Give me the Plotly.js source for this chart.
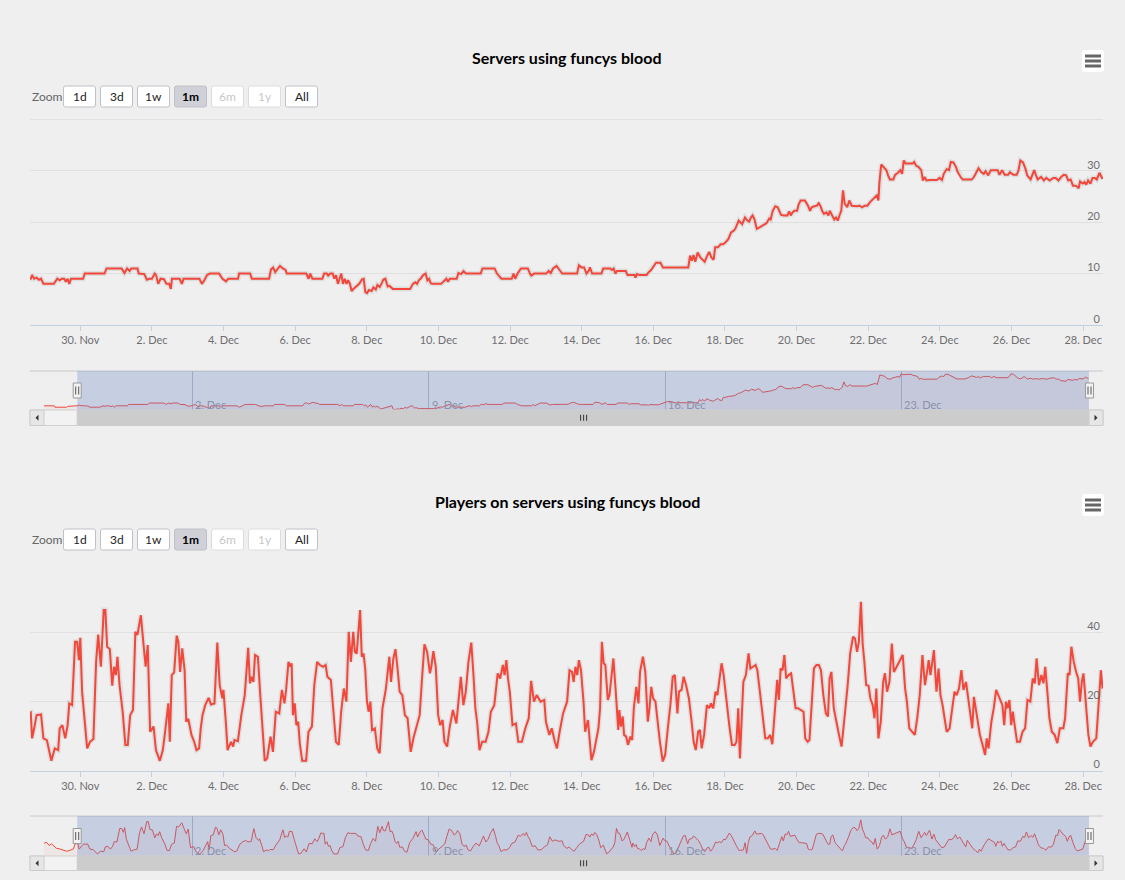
<!DOCTYPE html>
<html>
<head>
<meta charset="utf-8">
<script src="https://cdn.plot.ly/plotly-3.0.1.min.js"></script>
<style>
html,body{margin:0;padding:0;background:#efefef;}
#chart{width:1125px;height:880px;}
</style>
</head>
<body>
<div id="chart"></div>
<script>
// ---------------- DATA (hours since 2014-11-28 00:00) ----------------
const serverHours = [-9.3,-2,-1.5,6.8,7.5,10,13,14.8,15.7,17.1,18.7,20.3,21.7,23.3,30.3,32.6,34.2,35.6,37.2,38.3,39.5,40.6,41.8,49.9,51.0,64.2,65.6,75.7,77.6,79.4,81.0,82.2,86.3,87.2,90.9,92.6,94.2,96.0,97.9,98.8,100.2,101.8,104.1,105.7,107.6,108.7,109.4,114.5,116.1,117.2,127.8,129.5,131.1,132.9,134.8,141.0,143.3,145.6,147.2,153.7,154.4,161.8,163.0,174.5,175.8,177.2,178.6,180.2,181.8,183.7,185.5,186.4,199.4,201.0,202.1,203.5,210.2,211.4,213.2,214.1,215.5,217.1,218.3,219.4,220.6,221.7,222.9,224.0,225.2,226.4,227.5,228.7,229.8,231.0,233.3,234.9,236.8,237.9,239.0,240.2,241.4,243.2,244.4,246.0,247.1,248.7,250.1,251.0,252.4,254.0,255.2,256.3,257.5,269.0,270.9,272.5,273.7,274.8,276.0,277.8,279.4,280.6,281.7,282.9,284.0,289.8,292.1,293.3,294.4,295.6,300.2,301.4,303.2,304.8,306.4,316.3,317.5,325.6,327.2,330.2,337.1,338.3,339.4,341.0,343.3,347.9,349.3,350.2,352.1,360.2,361.8,363.2,364.8,367.1,369.4,371.0,
372.8,380.9,382.1,383.9,385.6,387.2,388.6,389.5,391.0,397.2,398.4,403.0,404.2,405.4,406.5,407.7,413.5,414.7,419.3,420.0,421.0,422.8,427.5,428.6,430.5,432.1,433.8,436.8,438.4,455.4,456.6,457.8,458.9,460.1,461.7,463.6,464.7,466.4,467.8,469.4,471.0,472.4,473.4,475.2,477.1,478.7,480.4,482.2,484.1,485.7,486.9,488.0,489.2,491.5,493.4,495.0,496.2,497.4,498.5,499.7,501.3,503.2,505.5,507.8,509.7,510.6,512.0,513.7,515.3,516.7,517.6,519.5,521.8,523.0,524.1,525.3,526.5,528.3,529.3,530.7,533.5,534.6,535.8,537.0,538.1,540.0,541.6,542.8,543.9,545.1,546.3,547.9,549.3,550.2,551.6,553.2,554.4,555.6,556.7,557.9,559.1,560.2,561.9,563.3,564.9,566.5,568.4,570.2,571.9,573.5,575.4,577.2,578.9,580.5,581.7,582.8,583.5,584.7,586.6,588.2,589.3,590.5,592.8,594.0,595.9,597.5,598.7,599.8,601.0,605.7,606.8,608.0,609.8,611.5,612.6,613.8,615.0,617.3,622.0,623.8,625.4,626.6,628.5,630.1,631.3,633.1,634.8,636.0,638.3,639.4,645.2,646.4,647.6,649.9,651.8,653.4,654.6,656.4,658.1,662.7,663.9,665.7,667.4,669.7,670.9,673.2,675.5,676.7,677.9,679.7,681.3,682.5,684.8,686.0,687.2,688.3,689.5,691.8,693.7,695.3,697.6,700.0,701.6,703.5,705.3,707.0,708.6,710.0,711.6,713.2,715.1,717.0,717.9,719.8,720.9,722.1,723.3,724.9,726.3,727.9,729.1,730.9,731.9,733.0];
const serverCounts = [9,9,8,8,8.6,9,9,9,9.7,9,9.2,8.8,9,8,8,9,8.7,9,9,8.4,9,8,9,9,10,10,11,11,10.1,11,10.5,11,11,10,9.9,8.8,9,9,10,9.7,8,9,8.9,8,8,7,9,9,8,9,9,8,8.7,9.7,10,10,9,8.5,9,9,10,10,9,9,10.8,11.2,10.3,11,11.5,11,10.7,10,10,9,10,9,9,10,10,9.6,10,10,9,9.7,8,9,10,8,9,8,8.7,8,6.6,7,7.6,8,8.9,9,6.4,6.2,6.8,6.6,7.3,6.9,7.8,7.4,8.2,8.8,9,7.5,7.6,7.3,7,7,8,8.3,8,8.7,9,9.7,10,8.7,9,8.1,8,8,8.8,9,8.4,9,9,10.1,9.9,10.5,10,10,11,11,10,9,9,10,9,10,11,11,10,9.6,10,10,10.5,10.1,11,11.5,10.6,10,
10,10,11.6,11.2,11.2,10,10.5,11.2,10,10,11,11,10.7,11,10,10.5,10.5,9.7,9.7,9.2,9.9,9.7,9.7,10.2,10.7,11.5,12.1,12.1,11.2,11.2,13.5,12.5,13.6,12.3,14.1,13.1,12.8,12.3,13.3,14.2,13.1,12.7,15.1,15.1,15.7,15.7,16.1,16.7,18.0,18.3,18.7,19.6,20.3,19.6,20.9,20.3,20.1,20.9,21.3,20.6,18.7,19.0,19.4,19.8,20.7,20.5,22.2,23.1,22.9,21.9,21.4,21.3,21.3,22.1,21.3,21.9,22.2,22.2,23.4,24.2,24.2,23.7,23.1,22.2,22.9,23.1,23.2,23.7,23.2,22.2,21.6,21.9,21.3,22.2,21.3,20.5,20.9,20.3,21.3,22.2,26.2,23.6,22.9,24.2,23.2,23.1,23.1,23.2,22.9,23.2,23.2,23.9,24.4,24.7,25.2,24.2,27.8,31.2,30.7,30.1,29.1,28.3,28.3,29.2,29.6,30.1,29.4,32.0,31.4,31.4,31.7,31.0,30.7,30.1,28.1,28.8,28.1,28.2,28.2,28.6,28.2,29.4,30.3,30.1,31.7,31.6,30.7,29.7,28.6,28.3,28.3,28.6,29.2,30.5,29.7,29.4,29.9,29.1,30.1,30.1,29.2,30.1,29.2,29.2,29.7,29.2,29.2,30.1,32.0,31.6,30.4,29.1,28.3,29.1,30.1,29.2,28.3,28.8,28.1,28.6,28.1,28.6,28.6,28.1,28.8,29.2,29.1,28.1,28.3,27.1,27.1,26.6,27.9,27.5,27.8,27.3,28.1,27.5,28.6,28.6,28.3,29.6,29.1,28.4];

const playerHours = [-9.3,-7.4,-5.6,-3.9,-2.2,-0.3,2.0,4.4,6.8,9.1,11.5,12.9,
14.8,15.7,17.1,18.7,21.7,23.3,25.6,28.6,30.9,33.2,34.2,36.0,37.9,39.5,40.6,42.5,44.5,45.9,47.1,48.0,49.2,51.0,52.6,54.5,56.8,58.6,60.0,61.8,63.7,64.8,66.0,67.8,69.4,70.6,71.8,72.9,74.3,76.4,78.2,79.8,81.4,83.3,84.9,86.3,88.6,90.2,91.8,93.2,94.8,97.1,98.7,101.3,103.3,104.7,107.0,108.0,109.3,110.9,112.6,113.7,114.9,116.3,117.9,119.0,120.4,122.5,124.1,125.9,127.6,128.7,129.9,131.7,134.0,135.6,137.9,139.8,141.4,143.2,143.9,145.5,146.7,149.0,150.4,151.3,153.6,155.9,158.2,160.5,161.7,162.8,164.0,165.1,167.0,168.6,170.2,171.6,173.2,175.5,177.1,179.0,181.3,183.1,184.8,185.9,187.5,188.7,189.6,190.5,191.7,192.8,194.0,195.1,196.7,199.3,200.9,203.2,204.8,206.7,208.5,210.8,212.4,213.6,215.9,217.7,219.3,221.2,222.8,224.6,226.3,227.9,229.3,230.9,232.0,233.2,234.3,235.5,236.6,237.8,238.9,240.1,241.2,242.4,243.5,245.4,247.0,248.6,250.5,252.8,255.1,256.2,257.8,259.2,260.8,262.0,263.8,265.5,267.3,269.4,271.2,273.5,275.4,277.0,278.6,280.4,282.3,283.2,284.6,286.2,287.8,289.2,290.8,292.0,293.8,295.4,297.7,300.0,301.7,303.0,304.7,306.3,308.1,310.0,311.6,312.7,313.9,315.5,317.3,319.6,321.5,323.1,325.4,327.7,329.3,331.2,332.3,333.5,334.6,335.8,337.6,339.9,341.5,343.9,346.2,348.5,350.1,352.0,353.8,356.5,358.9,360.0,362.3,363.9,366.0,367.4,369.2,371.5,
374.2,375.8,377.5,378.6,379.8,381.0,382.1,383.5,385.2,386.3,388.2,389.1,390.5,392.2,393.8,395.2,396.3,397.5,398.7,399.8,401.5,402.6,403.8,405.2,406.8,408.5,409.2,410.3,411.5,412.4,413.8,415.0,416.6,417.8,418.9,420.6,422.0,423.1,425.0,426.6,428.3,429.4,430.6,431.8,433.4,434.8,436.4,438.3,439.9,441.8,443.4,445.0,446.4,448.1,449.2,450.9,452.3,453.9,455.8,457.4,459.0,460.4,462.0,463.2,464.4,466.0,467.9,469.5,470.6,472.1,473.7,474.9,476.0,477.7,479.1,480.2,481.4,483.0,484.7,486.5,487.7,488.9,490.0,491.2,492.3,494.0,495.8,497.0,498.6,500.5,501.7,503.3,505.2,507.0,508.7,510.3,511.7,513.3,515.0,516.1,517.3,518.6,519.8,521.0,522.6,524.3,525.7,527.3,528.9,530.8,532.6,533.8,535.4,536.6,537.8,539.6,541.3,542.9,544.3,545.9,547.6,549.0,550.1,551.3,552.9,554.1,555.5,556.4,558.1,559.5,560.6,562.2,563.9,565.8,567.1,568.5,569.7,571.1,572.3,573.4,574.6,576.2,577.4,579.0,580.2,581.4,582.8,584.4,586.0,587.2,588.6,590.2,591.8,593.2,594.9,596.5,597.9,599.1,600.7,601.9,603.5,605.4,607.2,608.8,610.5,612.3,614.0,615.4,616.5,617.7,618.9,620.0,621.7,623.1,624.4,625.8,627.5,628.6,630.5,632.1,633.8,635.2,636.8,638.4,639.8,641.5,643.1,644.5,645.7,646.8,648.5,649.6,650.8,652.6,654.3,655.4,656.6,658.5,660.1,661.7,663.1,664.8,665.9,667.1,668.3,669.4,670.6,671.8,672.9,674.1,675.7,677.6,679.4,681.1,682.7,684.6,686.2,687.6,688.8,690.4,692.0,693.4,694.6,696.2,697.4,699.0,700.9,702.7,704.4,706.7,707.9,709.7,710.9,712.1,713.7,715.3,716.7,717.9,719.1,720.2,721.9,723.5,724.9,726.5,728.8,730.5,731.9,733.0];
const playerCounts = [17.3,18.4,14.2,16.5,13.3,10.3,9.5,7.6,6.4,7.6,9.5,16.5,
16.8,9.3,12.2,16,16.2,9.3,8.8,2.8,6.4,5.9,12.2,13.1,9.3,13.1,19.4,18.9,37.2,37.2,31.9,38.4,22.8,15.1,6.4,8.3,9.1,31.4,39.3,30,46.4,46.4,35.8,35.1,24.5,30,27.6,32.9,24.7,17,7.4,7.4,16,17.5,40.1,39.2,44.9,37.2,30,36.3,11.2,12.7,5.9,2.8,5.9,10.7,19.4,8.3,27.6,28.4,39,37.2,28.5,35.3,29,14.1,14.9,10.3,8.6,5.9,6.4,12.2,16,18.9,21,19.1,19.4,37,24.7,20.9,23.3,14.1,5.9,8.3,6.9,8.8,8.5,16,21.8,35.5,25.2,27.1,25.6,33.4,32.9,21.8,10.3,2.8,3.5,9.8,5.4,17,16.5,23.3,19.4,23.3,31.4,30,31,16,19.4,13.1,14.1,7.8,2.8,2.8,11.2,12.7,24.7,31.4,30.5,30,30.5,27.1,26.2,15.1,8.3,7.4,17,23.7,19.9,40.1,31.4,40.1,34.3,33.8,39.2,46.4,32.9,33.8,29.5,19.9,17,19.9,11.7,12.2,6.4,5,18,23.7,32.9,25.6,32.4,35.1,28.5,22.8,21.8,16,15.1,5.4,9.3,13.1,16,26.6,36.5,34.3,28.1,30,34.5,30,16,13.1,14.6,8.3,6.9,12.2,17.5,13.6,21.8,27.1,18.9,22.8,31.4,37,26.6,18,14.1,5.9,8.3,8.3,11.2,17,18.9,28.1,26.6,30.5,27.6,31.9,26.6,22.8,13.1,13.6,8.3,8.3,12.2,15.1,25.9,19.9,21.8,19.9,20.4,14.1,10.3,12.2,8.3,6.4,11.2,16.5,
19.9,29,28.5,25.6,30,27.6,31.9,29,19.9,11.2,14.6,10.3,3,5.4,9.3,12.2,18,37.2,31,30.5,20.4,21.8,26.6,32.4,22.8,11.7,17.5,12.7,15.6,10.3,9.8,7.4,9.8,8.8,18,24.2,19.4,28.5,32.9,28.5,14.1,18,24.2,20.9,19.9,14.1,8.3,2.6,4.5,12.7,18.9,27.1,27.6,16.5,22.8,23.3,27.1,24.7,20.9,15.1,8.3,5.9,11.2,11.7,6.4,10.3,18.9,18,19.4,18,22.8,21.8,25.2,31,27.6,23.3,18,12.7,7.4,7.4,8.3,18,3.5,18,25.6,27.6,33.9,29.5,30,30.5,29,22.8,14.6,9.3,9.3,10.3,7.6,16,26.2,20.4,29.5,29,33.4,26.6,27.6,28.1,22.8,18,18,17.5,17,9.3,8.3,8.8,16,29.5,30.5,30.5,29,21.8,16.5,15.6,26.6,28.5,18,15.1,12.2,10.3,6.9,14.1,17.5,24.7,33.9,38.7,38.2,34.3,37.2,48.8,36.3,31.4,24.7,24.5,20.9,18.9,15.1,23.7,9.3,14.1,25.6,28.1,22.8,25.6,36.7,28.5,30,31,32.4,33.4,23.7,19.9,12.2,11.2,10.3,15.1,21.8,33.4,24.7,28.5,31.9,27.6,31.4,34.8,22.8,29.5,21.8,18.9,14.1,11.2,12.2,17.5,22.8,21.8,23.7,29,23.3,25.6,19.9,16,12.2,21.3,16,13.1,10.3,7.4,4.5,9.3,6.4,14.1,18,23.3,21.8,20.4,18.9,13.1,19.9,18,20.4,13.1,17,13.1,8.3,8.3,11.2,12.2,20.4,19.9,26.6,25.2,32.4,24.7,27.6,25.2,30,21.8,15.1,11.2,10.3,7.9,12.2,12.2,15.1,28.1,27.6,35.8,31.4,28.5,26.6,19.9,25.6,28.1,18,10.3,6.9,8.3,9.3,18.9,29,23.7];

const chartTitles = ["Servers using funcys blood", "Players on servers using funcys blood"];
const zoomButtons = ["1d", "3d", "1w", "1m", "6m", "1y", "All"];
const serverTicks = [0, 10, 20, 30, 40];
const playerTicks = [0, 20, 40, 60];
const navTickDates = ["2014-12-02", "2014-12-09", "2014-12-16", "2014-12-23"];
const navTickLabels = ["2. Dec", "9. Dec", "16. Dec", "23. Dec"];

// ---------------- helpers ----------------
const W = 1125, H = 880;
const fx = x => x / W, fy = y => 1 - y / H;
const BASE = Date.UTC(2014, 10, 28);
const T = h => BASE + h * 3600000;
const serverX = serverHours.map(T);
const playerX = playerHours.map(T);
const WIN0 = T(14.3), WIN1 = T(733.3);
const RED = '#f2473a';
const F = "Lato, 'Open Sans', sans-serif";
const BG = '#efefef';

const G = [
  {title: 57, btn: 96.5, top: 118, bot: 325, navTop: 371, navBot: 410, scrBot: 425.5, menu: 61,
   ticks: serverTicks, navRange: [6, 34], yRange: [0, 40.25]},
  {title: 501, btn: 539.5, top: 562, bot: 770.5, navTop: 816, navBot: 856, scrBot: 870.5, menu: 505,
   ticks: playerTicks, navRange: [0, 54], yRange: [0, 60.29]}
];

const layout = {
  width: W, height: H, margin: {l: 0, r: 0, t: 0, b: 0},
  paper_bgcolor: BG, plot_bgcolor: 'rgba(0,0,0,0)',
  showlegend: false, font: {family: F, color: '#333'},
  shapes: [], annotations: []
};

function roundRect(x0, y0, x1, y1, r) {
  const X0 = fx(x0), X1 = fx(x1), Y0 = fy(y0), Y1 = fy(y1);
  const rx = r / W, ry = r / H;
  return `M${X0 + rx},${Y0} L${X1 - rx},${Y0} Q${X1},${Y0} ${X1},${Y0 - ry} L${X1},${Y1 + ry} Q${X1},${Y1} ${X1 - rx},${Y1} L${X0 + rx},${Y1} Q${X0},${Y1} ${X0},${Y1 + ry} L${X0},${Y0 - ry} Q${X0},${Y0} ${X0 + rx},${Y0} Z`;
}

G.forEach((g, i) => {
  const mx = i === 0 ? 'xaxis' : 'xaxis3', my = i === 0 ? 'yaxis' : 'yaxis3';
  const nx = i === 0 ? 'xaxis2' : 'xaxis4', ny = i === 0 ? 'yaxis2' : 'yaxis4';
  const mxr = i === 0 ? 'x' : 'x3', myr = i === 0 ? 'y' : 'y3';
  const nxr = i === 0 ? 'x2' : 'x4', nyr = i === 0 ? 'y2' : 'y4';

  layout[mx] = {
    domain: [fx(30), fx(1103)], anchor: myr, type: 'date', range: [WIN0, WIN1],
    tick0: '2014-11-30', dtick: 2 * 86400000, tickformat: '%-d. %b',
    ticks: 'outside', ticklen: 5, tickcolor: '#C0D0E0', tickwidth: 1,
    showline: true, linecolor: '#C0D0E0', linewidth: 1, showgrid: false, zeroline: false,
    tickfont: {family: F, size: 11, color: '#6e6e70'}, fixedrange: true
  };
  const tv = g.ticks;
  layout[my] = {
    domain: [fy(g.bot), fy(g.top)], anchor: mxr, range: g.yRange, side: 'right',
    tickvals: tv, ticktext: tv.map((v, k) => k === tv.length - 1 ? '' : String(v)),
    ticklabelposition: 'inside', ticklabelshift: -6, ticklabelstandoff: 0, ticks: '',
    showgrid: true, gridcolor: '#e0e0e0', gridwidth: 1, zeroline: false, showline: false,
    tickfont: {family: F, size: 11, color: '#6e6e70'}, fixedrange: true
  };
  layout[nx] = {
    domain: [fx(44), fx(1089)], anchor: nyr, type: 'date',
    range: [T(playerHours[0]), T(733.3)],
    tick0: '2014-12-02', dtick: 7 * 86400000,
    showticklabels: false, ticks: '', showgrid: true, gridcolor: '#b3bbcd', gridwidth: 1,
    showline: false, zeroline: false, fixedrange: true
  };
  layout[ny] = {
    domain: [fy(g.navBot), fy(g.navTop)], anchor: nxr, range: g.navRange,
    visible: false, fixedrange: true
  };

  const S = layout.shapes, A = layout.annotations;
  // navigator tick labels
  navTickDates.forEach((d, k) => {
    A.push({text: navTickLabels[k], xref: nxr, yref: 'paper', x: d, y: fy(g.navBot - 6),
      xanchor: 'left', yanchor: 'middle', xshift: 1, showarrow: false,
      font: {family: F, size: 11, color: '#8a91a8'}});
  });
  // navigator top outline
  S.push({type: 'line', xref: 'paper', yref: 'paper', x0: fx(30), x1: fx(1103), y0: fy(g.navTop), y1: fy(g.navTop),
    line: {color: '#c8c8cc', width: 1}});
  // navigator mask (selected range)
  S.push({type: 'rect', xref: nxr, yref: 'paper', x0: WIN0, x1: WIN1, y0: fy(g.navBot), y1: fy(g.navTop),
    fillcolor: 'rgba(102,133,194,0.3)', line: {width: 0}, layer: 'above'});
  // scrollbar track
  S.push({type: 'rect', xref: 'paper', yref: 'paper', x0: fx(30), x1: fx(1103), y0: fy(g.scrBot), y1: fy(g.navBot),
    fillcolor: '#f2f2f2', line: {color: '#d0d0d0', width: 1}, layer: 'above'});
  // scrollbar thumb
  S.push({type: 'rect', xref: nxr, yref: 'paper', x0: WIN0, x1: WIN1, y0: fy(g.scrBot - 0.5), y1: fy(g.navBot + 0.5),
    fillcolor: '#cccccc', line: {color: '#cccccc', width: 1}, layer: 'above'});
  // scrollbar buttons
  [[30, 44], [1089, 1103]].forEach(([a, b]) => {
    S.push({type: 'rect', xref: 'paper', yref: 'paper', x0: fx(a), x1: fx(b), y0: fy(g.scrBot), y1: fy(g.navBot),
      fillcolor: '#e6e6e6', line: {color: '#cccccc', width: 1}, layer: 'above'});
  });
  const sm = (g.navBot + g.scrBot) / 2;
  S.push({type: 'path', xref: 'paper', yref: 'paper', layer: 'above',
    path: `M${fx(35.5)},${fy(sm)} L${fx(38.5)},${fy(sm - 3)} L${fx(38.5)},${fy(sm + 3)} Z`,
    fillcolor: '#333', line: {width: 0}});
  S.push({type: 'path', xref: 'paper', yref: 'paper', layer: 'above',
    path: `M${fx(1097.5)},${fy(sm)} L${fx(1094.5)},${fy(sm - 3)} L${fx(1094.5)},${fy(sm + 3)} Z`,
    fillcolor: '#333', line: {width: 0}});
  // grip on thumb
  const mid = (WIN0 + WIN1) / 2;
  [-3, 0, 3].forEach(d => {
    S.push({type: 'line', xref: nxr, yref: 'paper', xsizemode: 'pixel', xanchor: mid, x0: d + 0.5, x1: d + 0.5,
      y0: fy(sm - 3), y1: fy(sm + 3), line: {color: '#333', width: 1}, layer: 'above'});
  });
  // navigator handles (left one follows the window start; right one sits on the navigator's right end)
  const hm = (g.navTop + g.navBot) / 2;
  const handle = (xref, anchor, cx) => {
    const base = xref === 'paper'
      ? {xref: 'paper', x0: fx(cx - 4), x1: fx(cx + 4)}
      : {xref, xsizemode: 'pixel', xanchor: anchor, x0: -4, x1: 4};
    S.push(Object.assign({type: 'rect', yref: 'paper', y0: fy(hm + 7.5), y1: fy(hm - 7.5),
      fillcolor: '#f2f2f2', line: {color: '#999999', width: 1}, layer: 'above'}, base));
    [-1.5, 1.5].forEach(d => {
      const b2 = xref === 'paper'
        ? {xref: 'paper', x0: fx(cx + d), x1: fx(cx + d)}
        : {xref, xsizemode: 'pixel', xanchor: anchor, x0: d, x1: d};
      S.push(Object.assign({type: 'line', yref: 'paper', y0: fy(hm + 4), y1: fy(hm - 4),
        line: {color: '#555', width: 1}, layer: 'above'}, b2));
    });
  };
  handle(nxr, WIN0, 0);
  handle('paper', null, 1089.5);
  // menu (hamburger) button
  S.push({type: 'path', xref: 'paper', yref: 'paper', path: roundRect(1082, g.menu - 11, 1104, g.menu + 11, 3),
    fillcolor: '#ffffff', line: {width: 0}});
  [-5, 0, 5].forEach(d => {
    S.push({type: 'line', xref: 'paper', yref: 'paper', x0: fx(1085), x1: fx(1101), y0: fy(g.menu + d), y1: fy(g.menu + d),
      line: {color: '#666666', width: 3}});
  });
  // title
  A.push({text: '<b>' + chartTitles[i] + '</b>', xref: 'paper', yref: 'paper', x: fx(567), y: fy(g.title),
    xanchor: 'center', yanchor: 'middle', showarrow: false, font: {family: F, size: 16, color: '#000'}});
  // zoom label
  A.push({text: 'Zoom', xref: 'paper', yref: 'paper', x: fx(30), y: fy(g.btn), xanchor: 'left', yanchor: 'middle',
    showarrow: false, font: {family: F, size: 12, color: '#666'}});
  // range buttons
  zoomButtons.forEach((b, k) => {
    const cx = 79.5 + k * 37;
    const active = b === '1m', disabled = (b === '6m' || b === '1y');
    S.push({type: 'path', xref: 'paper', yref: 'paper', path: roundRect(cx - 16, g.btn - 10.5, cx + 16, g.btn + 10.5, 2),
      fillcolor: active ? '#d0d0d8' : '#ffffff', line: {color: disabled ? '#dcdce0' : '#c0c0c8', width: 1}});
    A.push({text: active ? '<b>' + b + '</b>' : b, xref: 'paper', yref: 'paper', x: fx(cx), y: fy(g.btn),
      xanchor: 'center', yanchor: 'middle', showarrow: false,
      font: {family: F, size: 12, color: disabled ? '#c8c8c8' : (active ? '#000' : '#222')}});
  });
});

const shadow = {color: 'rgba(0,0,0,0.07)', width: 5};
const traces = [
  {x: serverX, y: serverCounts, xaxis: 'x', yaxis: 'y', type: 'scatter', mode: 'lines',
   line: shadow, hoverinfo: 'skip'},
  {x: serverX, y: serverCounts, xaxis: 'x', yaxis: 'y', type: 'scatter', mode: 'lines',
   line: {color: RED, width: 2}, hoverinfo: 'skip'},
  {x: serverX, y: serverCounts, xaxis: 'x2', yaxis: 'y2', type: 'scatter', mode: 'lines',
   line: {color: RED, width: 1}, fill: 'tozeroy', fillcolor: 'rgba(244,91,91,0.06)', hoverinfo: 'skip'},
  {x: playerX, y: playerCounts, xaxis: 'x3', yaxis: 'y3', type: 'scatter', mode: 'lines',
   line: shadow, hoverinfo: 'skip'},
  {x: playerX, y: playerCounts, xaxis: 'x3', yaxis: 'y3', type: 'scatter', mode: 'lines',
   line: {color: RED, width: 2}, hoverinfo: 'skip'},
  {x: playerX, y: playerCounts, xaxis: 'x4', yaxis: 'y4', type: 'scatter', mode: 'lines',
   line: {color: RED, width: 1}, fill: 'tozeroy', fillcolor: 'rgba(244,91,91,0.06)', hoverinfo: 'skip'}
];

Plotly.newPlot('chart', traces, layout, {displayModeBar: false, staticPlot: true});
</script>
</body>
</html>
